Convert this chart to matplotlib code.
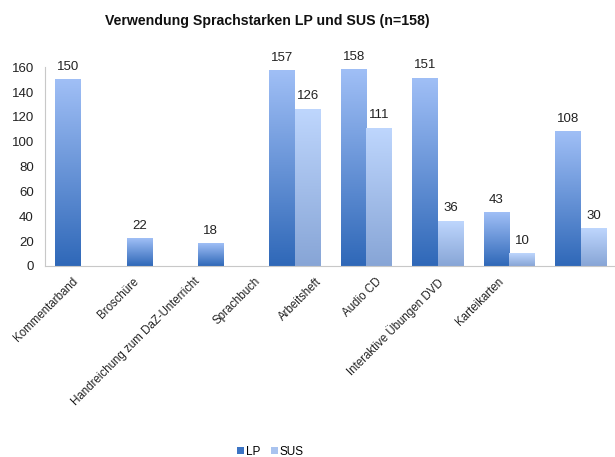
import numpy as np
import matplotlib
matplotlib.use("Agg")
import matplotlib.pyplot as plt
from matplotlib.colors import LinearSegmentedColormap
from matplotlib.patches import Patch

plt.rcParams['font.family'] = ['Liberation Sans', 'DejaVu Sans']

categories = ["Kommentarband", "Broschüre", "Handreichung zum DaZ-Unterricht",
              "Sprachbuch", "Arbeitsheft", "Audio CD",
              "Interaktive Übungen DVD", "Karteikarten"]
lp_values = [150, 22, 18, 157, 158, 151, 43, 108]
sus_values = [None, None, None, 126, 111, 36, 10, 30]
series_names = ["LP", "SUS"]
title = "Verwendung Sprachstarken LP und SUS (n=158)"

lp_top, lp_bottom = "#a0bff6", "#2f68b8"
sus_top, sus_bottom = "#bed6fd", "#87a5d6"

fig = plt.figure(figsize=(6.15, 4.57), dpi=100)
ax = fig.add_axes([0.073, 0.418, 0.927, 0.435])

x = np.arange(len(categories))
w = 0.357
lp_h = np.array(lp_values, dtype=float)
sus_h = np.array([np.nan if v is None else v for v in sus_values], dtype=float)

bars_lp = ax.bar(x - w/2, lp_h, w, color="none", edgecolor="none")
bars_sus = ax.bar(x + w/2, np.nan_to_num(sus_h), w, color="none", edgecolor="none")

grad = np.linspace(1, 0, 256).reshape(-1, 1)
cm_lp = LinearSegmentedColormap.from_list("lp", [lp_bottom, lp_top])
cm_sus = LinearSegmentedColormap.from_list("sus", [sus_bottom, sus_top])

def fill(bars, cmap, vals):
    for b, v in zip(bars, vals):
        if np.isnan(v) or v <= 0:
            continue
        x0, y0 = b.get_x(), b.get_y()
        ww, hh = b.get_width(), b.get_height()
        ax.imshow(grad, cmap=cmap, aspect="auto",
                  extent=(x0, x0 + ww, y0, y0 + hh), zorder=2,
                  interpolation="bilinear")
        ax.annotate(f"{int(v)}", (x0 + ww/2, y0 + hh), xytext=(0, 5),
                    textcoords="offset points", ha="center", va="bottom",
                    fontsize=9.5, color="#222222")

fill(bars_lp, cm_lp, lp_h)
fill(bars_sus, cm_sus, sus_h)

ax.set_xlim(-0.5, 7.48)
ax.set_ylim(0, 160)
ax.set_yticks(np.arange(0, 161, 20))
ax.tick_params(axis="y", length=0, labelsize=9.5, pad=8, labelcolor="#222222")

# label anchors (Excel places them somewhat compressed)
lab_pos = x * 0.851 - 0.122
ax.set_xticks(lab_pos)
ax.set_xticklabels(categories, rotation=45, ha="right", rotation_mode="anchor",
                   fontsize=8.3, color="#222222")
ax.tick_params(axis="x", length=0, pad=7)

for s in ["top", "right"]:
    ax.spines[s].set_visible(False)
for s in ["left", "bottom"]:
    ax.spines[s].set_color("#c8c8c8")
    ax.spines[s].set_linewidth(0.8)

fig.text(0.435, 0.955, title, ha="center", va="center", fontsize=10.2,
         fontweight="bold", color="#111111")

handles = [Patch(facecolor="#3c74c4"), Patch(facecolor="#a9c3ef")]
fig.legend(handles, series_names, loc="center", bbox_to_anchor=(0.44, 0.011),
           ncol=2, frameon=False, fontsize=8.5, handlelength=0.55,
           handleheight=0.55, handletextpad=0.2, columnspacing=0.9)

fig.savefig("out.png", dpi=100)
